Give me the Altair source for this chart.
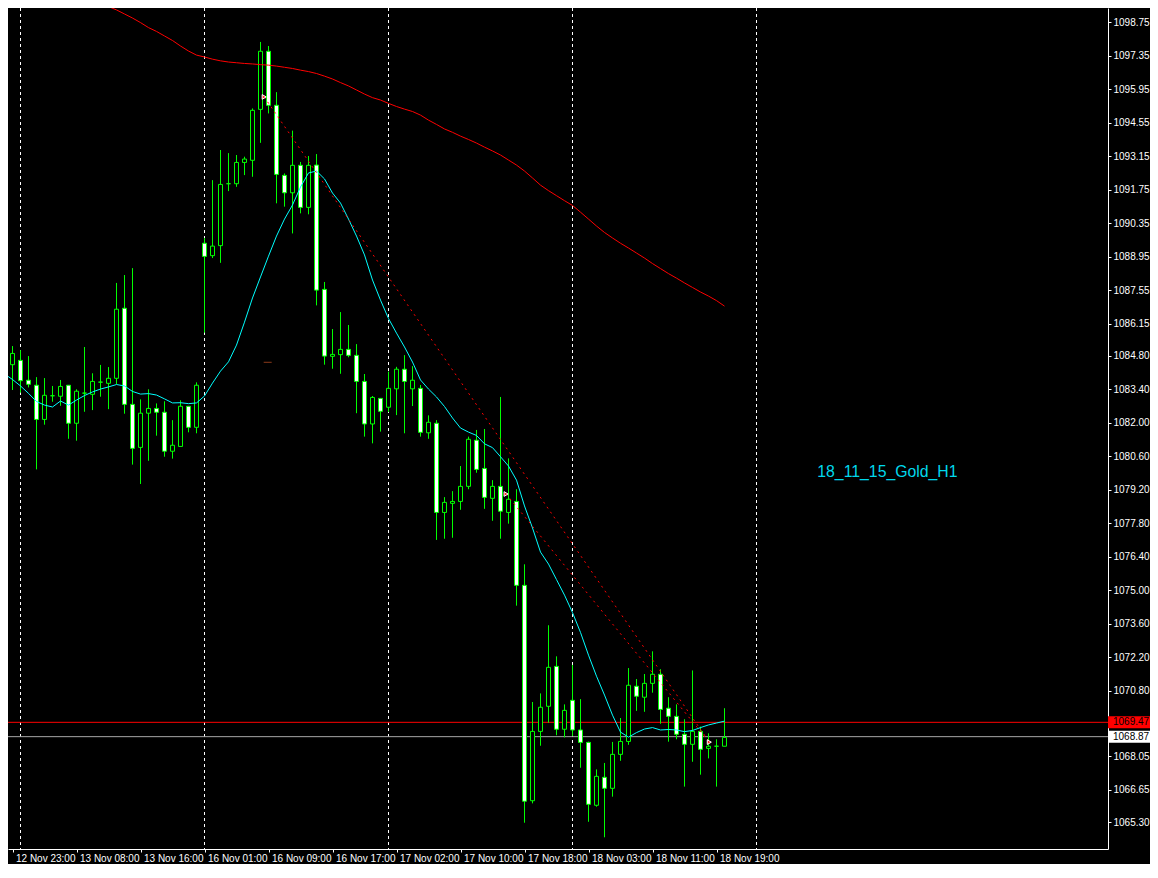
import altair as alt
import pandas as pd

# ---------------- data ----------------
bars = list(range(91))

opens = [1083.13, 1084.43, 1084.61, 1083.78, 1083.57, 1082.14, 1083.13, 1083.11, 1083.57, 1081.98,
         1083.24, 1083.19, 1083.70, 1083.65, 1083.86, 1086.79, 1082.77, 1080.97, 1082.40, 1082.60,
         1082.44, 1080.81, 1081.01, 1082.69, 1081.81, 1089.51, 1088.99, 1089.41, 1092.00, 1092.00,
         1092.89, 1092.98, 1095.11, 1097.54, 1095.28, 1092.35, 1091.62, 1092.77, 1091.01, 1092.78,
         1087.58, 1084.78, 1084.85, 1085.07, 1084.82, 1083.73, 1081.95, 1083.02, 1082.65, 1083.42,
         1084.24, 1083.42, 1083.44, 1081.58, 1081.98, 1078.25, 1078.63, 1078.71, 1079.34, 1081.27,
         1080.09, 1078.84, 1079.34, 1078.25, 1078.71, 1075.20, 1066.19, 1069.09, 1070.14, 1071.81,
         1069.18, 1070.39, 1069.15, 1068.63, 1066.00, 1067.17, 1066.71, 1068.13, 1068.67, 1070.98,
         1070.52, 1071.10, 1071.48, 1070.06, 1069.72, 1068.97, 1068.55, 1069.09, 1068.38, 1068.47,
         1068.47]

closes = [1084.44, 1084.90, 1083.76, 1083.61, 1082.14, 1083.15, 1083.13, 1083.52, 1081.98, 1083.32,
          1083.24, 1083.73, 1083.70, 1083.86, 1086.75, 1082.77, 1080.93, 1082.40, 1082.60, 1082.44,
          1080.81, 1081.06, 1082.69, 1081.81, 1083.57, 1088.96, 1089.39, 1091.97, 1092.00, 1092.89,
          1093.03, 1095.07, 1097.54, 1095.28, 1092.39, 1091.62, 1092.77, 1091.01, 1092.77, 1087.55,
          1084.79, 1084.86, 1085.07, 1084.82, 1083.73, 1081.95, 1083.06, 1082.48, 1083.44, 1084.24,
          1083.73, 1083.78, 1081.60, 1082.02, 1078.25, 1078.67, 1078.71, 1079.34, 1081.31, 1080.05,
          1078.88, 1079.34, 1078.30, 1078.80, 1075.20, 1066.17, 1069.09, 1070.10, 1071.77, 1069.18,
          1069.97, 1069.15, 1068.63, 1066.04, 1067.21, 1066.71, 1068.13, 1068.67, 1071.02, 1070.56,
          1071.10, 1071.48, 1070.01, 1069.72, 1068.97, 1068.55, 1069.09, 1068.34, 1068.47, 1068.47,
          1068.84]

highs = [1085.04, 1085.21, 1085.04, 1084.79, 1083.91, 1083.87, 1083.54, 1083.79, 1083.57, 1083.40,
         1085.17, 1084.07, 1084.42, 1084.33, 1087.85, 1088.18, 1088.47, 1082.98, 1083.40, 1082.81,
         1082.90, 1082.11, 1082.94, 1082.69, 1083.69, 1089.73, 1092.15, 1093.41, 1093.28, 1093.20,
         1093.13, 1095.15, 1097.93, 1097.76, 1095.83, 1092.43, 1094.22, 1092.91, 1093.16, 1093.24,
         1087.89, 1085.92, 1086.63, 1086.09, 1085.29, 1084.04, 1083.12, 1083.02, 1084.14, 1084.34,
         1084.83, 1084.37, 1083.58, 1082.31, 1082.11, 1078.89, 1079.14, 1080.19, 1081.42, 1081.70,
         1081.74, 1079.60, 1083.08, 1080.51, 1079.22, 1076.08, 1070.32, 1070.68, 1073.53, 1072.23,
         1070.22, 1071.87, 1070.44, 1068.66, 1067.50, 1067.77, 1068.65, 1069.65, 1071.74, 1071.28,
         1071.49, 1072.44, 1071.69, 1070.52, 1070.22, 1069.60, 1071.64, 1069.29, 1069.01, 1068.76,
         1070.06]

lows = [1082.16, 1083.37, 1083.26, 1083.48, 1080.05, 1081.92, 1082.88, 1082.71, 1081.33, 1081.25,
        1082.46, 1082.53, 1083.09, 1082.57, 1083.62, 1082.38, 1080.25, 1079.44, 1080.41, 1081.46,
        1080.58, 1080.50, 1081.01, 1081.60, 1081.56, 1085.77, 1088.89, 1088.69, 1091.69, 1091.87,
        1092.36, 1092.29, 1093.71, 1094.94, 1091.18, 1091.04, 1089.92, 1090.76, 1090.72, 1086.91,
        1084.43, 1084.26, 1084.05, 1084.74, 1082.40, 1081.42, 1081.14, 1081.63, 1082.45, 1082.32,
        1081.56, 1082.70, 1081.42, 1081.33, 1077.10, 1077.15, 1077.19, 1078.36, 1079.22, 1079.91,
        1078.40, 1077.90, 1077.15, 1077.78, 1074.35, 1065.27, 1066.08, 1068.49, 1069.45, 1068.93,
        1068.84, 1068.90, 1067.57, 1065.31, 1065.94, 1064.66, 1066.36, 1067.86, 1068.53, 1069.95,
        1069.91, 1070.71, 1069.41, 1068.66, 1068.76, 1066.78, 1067.82, 1067.28, 1067.96, 1066.78,
        1068.47]

ma_fast = [1084.04, 1083.81, 1083.54, 1083.23, 1082.89, 1082.74, 1082.66, 1082.91, 1082.74, 1082.95,
           1083.14, 1083.29, 1083.41, 1083.50, 1083.60, 1083.54, 1083.31, 1083.20, 1083.22, 1083.16,
           1083.00, 1082.83, 1082.84, 1082.80, 1082.83, 1083.12, 1083.66, 1084.16, 1084.55, 1085.25,
           1086.21, 1087.22, 1088.10, 1088.97, 1089.81, 1090.52, 1091.11, 1091.86, 1092.45, 1092.53,
           1092.20, 1091.61, 1091.19, 1090.52, 1089.81, 1089.02, 1087.97, 1087.13, 1086.36, 1085.75,
           1085.17, 1084.54, 1083.79, 1083.41, 1083.08, 1082.68, 1082.20, 1081.78, 1081.61, 1081.47,
           1081.12, 1080.96, 1080.58, 1080.19, 1079.60, 1078.52, 1077.60, 1076.59, 1076.09, 1075.44,
           1074.79, 1074.06, 1073.23, 1072.28, 1071.40, 1070.61, 1069.77, 1069.06, 1068.85, 1069.04,
           1069.19, 1069.25, 1069.15, 1069.17, 1069.15, 1069.08, 1069.13, 1069.25, 1069.36, 1069.44,
           1069.52]

slow_start = 10
ma_slow = [1099.89, 1099.72, 1099.56, 1099.41, 1099.27, 1099.10, 1098.93, 1098.74, 1098.53, 1098.37,
           1098.18, 1097.99, 1097.76, 1097.55, 1097.38, 1097.30, 1097.21, 1097.14, 1097.09, 1097.06,
           1097.03, 1097.01, 1096.98, 1096.96, 1096.92, 1096.87, 1096.82, 1096.75, 1096.69, 1096.61,
           1096.50, 1096.38, 1096.23, 1096.09, 1095.92, 1095.75, 1095.60, 1095.50, 1095.36, 1095.23,
           1095.12, 1095.02, 1094.87, 1094.66, 1094.48, 1094.29, 1094.15, 1093.99, 1093.85, 1093.70,
           1093.53, 1093.37, 1093.20, 1092.99, 1092.78, 1092.53, 1092.24, 1091.94, 1091.71, 1091.50,
           1091.29, 1091.09, 1090.81, 1090.52, 1090.23, 1089.96, 1089.73, 1089.51, 1089.31, 1089.10,
           1088.89, 1088.66, 1088.45, 1088.24, 1088.05, 1087.85, 1087.66, 1087.47, 1087.30, 1087.11,
           1086.88]

# trade lines (entry -> exit)
trade1_bars = [32.46, 88.1]
trade1_prices = [1095.63, 1068.64]
trade2_bars = [62.7, 88.1]
trade2_prices = [1079.02, 1068.64]
marker_bars = [32.46, 62.7, 88.1]
marker_prices = [1095.63, 1079.02, 1068.64]

separator_bars = [2, 25, 48, 71, 94]

ask_price = [1069.47]
ask_label = ["1069.47"]
bid_price = [1068.87]
bid_label = ["1068.87"]

xtick_bars = [1, 9, 17, 25, 33, 41, 49, 57, 65, 73, 81, 89]
xtick_labels = ["12 Nov 23:00", "13 Nov 08:00", "13 Nov 16:00", "16 Nov 01:00", "16 Nov 09:00",
                "16 Nov 17:00", "17 Nov 02:00", "17 Nov 10:00", "17 Nov 18:00", "18 Nov 03:00",
                "18 Nov 11:00", "18 Nov 19:00"]

ytick_vals = [1098.75, 1097.35, 1095.95, 1094.55, 1093.15, 1091.75, 1090.35, 1088.95, 1087.55,
              1086.15, 1084.80, 1083.40, 1082.00, 1080.60, 1079.20, 1077.80, 1076.40, 1075.00,
              1073.60, 1072.20, 1070.80, 1068.05, 1066.65, 1065.30, 1063.90]

title_text = ["18_11_15_Gold_H1"]
title_bar = [101.6]
title_price = [1079.92]

dash_bars = [32.4]
dash_bars2 = [33.4]
dash_prices = [1084.53]

# ---------------- chart ----------------
PLOT_W, PLOT_H = 1100, 841
PX_PER_BAR = 8.0
PX_PER_PRICE = 1 / 0.04183
X0, Y_TOP = 0.4375, 1099.35
FONT = "Liberation Sans"
GREEN = "#00FF00"

x_scale = alt.Scale(domain=[X0, X0 + PLOT_W / PX_PER_BAR], nice=False, zero=False, padding=0)
y_scale = alt.Scale(domain=[Y_TOP - PLOT_H / PX_PER_PRICE, Y_TOP], nice=False, zero=False, padding=0)

label_expr = " : ".join(f"datum.value == {b} ? '{t}'" for b, t in zip(xtick_bars, xtick_labels)) + " : ''"

x_axis = alt.Axis(orient="bottom", values=xtick_bars, labelExpr=label_expr, labelAlign="left",
                  labelBaseline="top", labelOffset=3, labelPadding=1, tickSize=3, tickColor="white",
                  domainColor="white", labelColor="white", labelFont=FONT, labelFontSize=10,
                  grid=False, title=None, labelOverlap=False, labelFlush=False)
y_axis = alt.Axis(orient="right", values=ytick_vals, format=".2f", tickSize=3, labelPadding=2,
                  tickColor="white", domainColor="white", labelColor="white", labelFont=FONT,
                  labelFontSize=10, grid=False, title=None, labelOverlap=False, labelFlush=False,
                  labelBaseline="middle")


def X(field):
    return alt.X(field, type="quantitative", scale=x_scale, axis=x_axis)


def Y(field):
    return alt.Y(field, type="quantitative", scale=y_scale, axis=y_axis)


candles = pd.DataFrame({"bar": bars, "open": opens, "high": highs, "low": lows, "close": closes})
fast_df = pd.DataFrame({"bar": bars, "ma": ma_fast})
slow_df = pd.DataFrame({"bar": list(range(slow_start, slow_start + len(ma_slow))), "ma": ma_slow})
sep_df = pd.DataFrame({"bar": separator_bars})
t1_df = pd.DataFrame({"bar": trade1_bars, "price": trade1_prices})
t2_df = pd.DataFrame({"bar": trade2_bars, "price": trade2_prices})
mk_df = pd.DataFrame({"bar": marker_bars, "price": marker_prices})
ask_df = pd.DataFrame({"price": ask_price, "label": ask_label})
bid_df = pd.DataFrame({"price": bid_price, "label": bid_label})
title_df = pd.DataFrame({"bar": title_bar, "price": title_price, "text": title_text})
dash_df = pd.DataFrame({"bar": dash_bars, "bar2": dash_bars2, "price": dash_prices})

separators = alt.Chart(sep_df).mark_rule(color="white", strokeWidth=1, strokeDash=[3, 3], clip=True).encode(
    x=X("bar"))

ask_line = alt.Chart(ask_df).mark_rule(color="#FF0000", strokeWidth=1).encode(y=Y("price"))
bid_line = alt.Chart(bid_df).mark_rule(color="#A8A8A8", strokeWidth=1).encode(y=Y("price"))

wicks = alt.Chart(candles).mark_rule(color=GREEN, strokeWidth=1, clip=True).encode(
    x=X("bar"), y=Y("low"), y2="high:Q")
bodies = alt.Chart(candles).mark_bar(size=4, stroke=GREEN, strokeWidth=1, clip=True, opacity=1).encode(
    x=X("bar"), y=Y("open"), y2="close:Q",
    fill=alt.condition("datum.close >= datum.open", alt.value("black"), alt.value("white")))

slow_line = alt.Chart(slow_df).mark_line(color="#FF0000", strokeWidth=1, clip=True).encode(
    x=X("bar"), y=Y("ma"))
fast_line = alt.Chart(fast_df).mark_line(color="#00FFFF", strokeWidth=1, clip=True).encode(
    x=X("bar"), y=Y("ma"))

trade1 = alt.Chart(t1_df).mark_line(color="#FF0000", strokeWidth=1, strokeDash=[2, 4], clip=True).encode(
    x=X("bar"), y=Y("price"))
trade2 = alt.Chart(t2_df).mark_line(color="#FF0000", strokeWidth=1, strokeDash=[2, 4], clip=True).encode(
    x=X("bar"), y=Y("price"))
markers = alt.Chart(mk_df).mark_point(shape="triangle-right", size=22, filled=True, fill="#FF2020",
                                      stroke="white", strokeWidth=1, opacity=1).encode(
    x=X("bar"), y=Y("price"))

dash = alt.Chart(dash_df).mark_rule(color="#8B3A1A", strokeWidth=1).encode(
    x=X("bar"), x2="bar2:Q", y=Y("price"))

title = alt.Chart(title_df).mark_text(align="left", baseline="middle", font=FONT, fontSize=15.8,
                                      color="#00D8EC").encode(x=X("bar"), y=Y("price"), text="text:N")

ask_box = alt.Chart(ask_df).mark_tick(orient="horizontal", size=44, thickness=12, color="#FF0000",
                                      opacity=1).encode(x=alt.value(PLOT_W + 22), y=Y("price"))
bid_box = alt.Chart(bid_df).mark_tick(orient="horizontal", size=44, thickness=12, color="#FFFFFF",
                                      opacity=1).encode(x=alt.value(PLOT_W + 22), y=Y("price"))
ask_text = alt.Chart(ask_df).mark_text(align="left", baseline="middle", font=FONT, fontSize=10,
                                       color="black").encode(x=alt.value(PLOT_W + 5), y=Y("price"),
                                                             text="label:N")
bid_text = alt.Chart(bid_df).mark_text(align="left", baseline="middle", font=FONT, fontSize=10,
                                       color="black").encode(x=alt.value(PLOT_W + 5), y=Y("price"),
                                                             text="label:N")

chart = alt.layer(
    separators, ask_line, bid_line, wicks, bodies, slow_line, fast_line,
    trade1, trade2, dash, markers, title, ask_box, bid_box, ask_text, bid_text
).properties(
    width=PLOT_W, height=PLOT_H, background="black",
    padding={"left": 0, "top": 0, "right": 42, "bottom": 15},
    autosize=alt.AutoSizeParams(type="none"),
).configure_view(stroke=None)

chart.save("out.html", embed_options={"renderer": "svg", "actions": False})
